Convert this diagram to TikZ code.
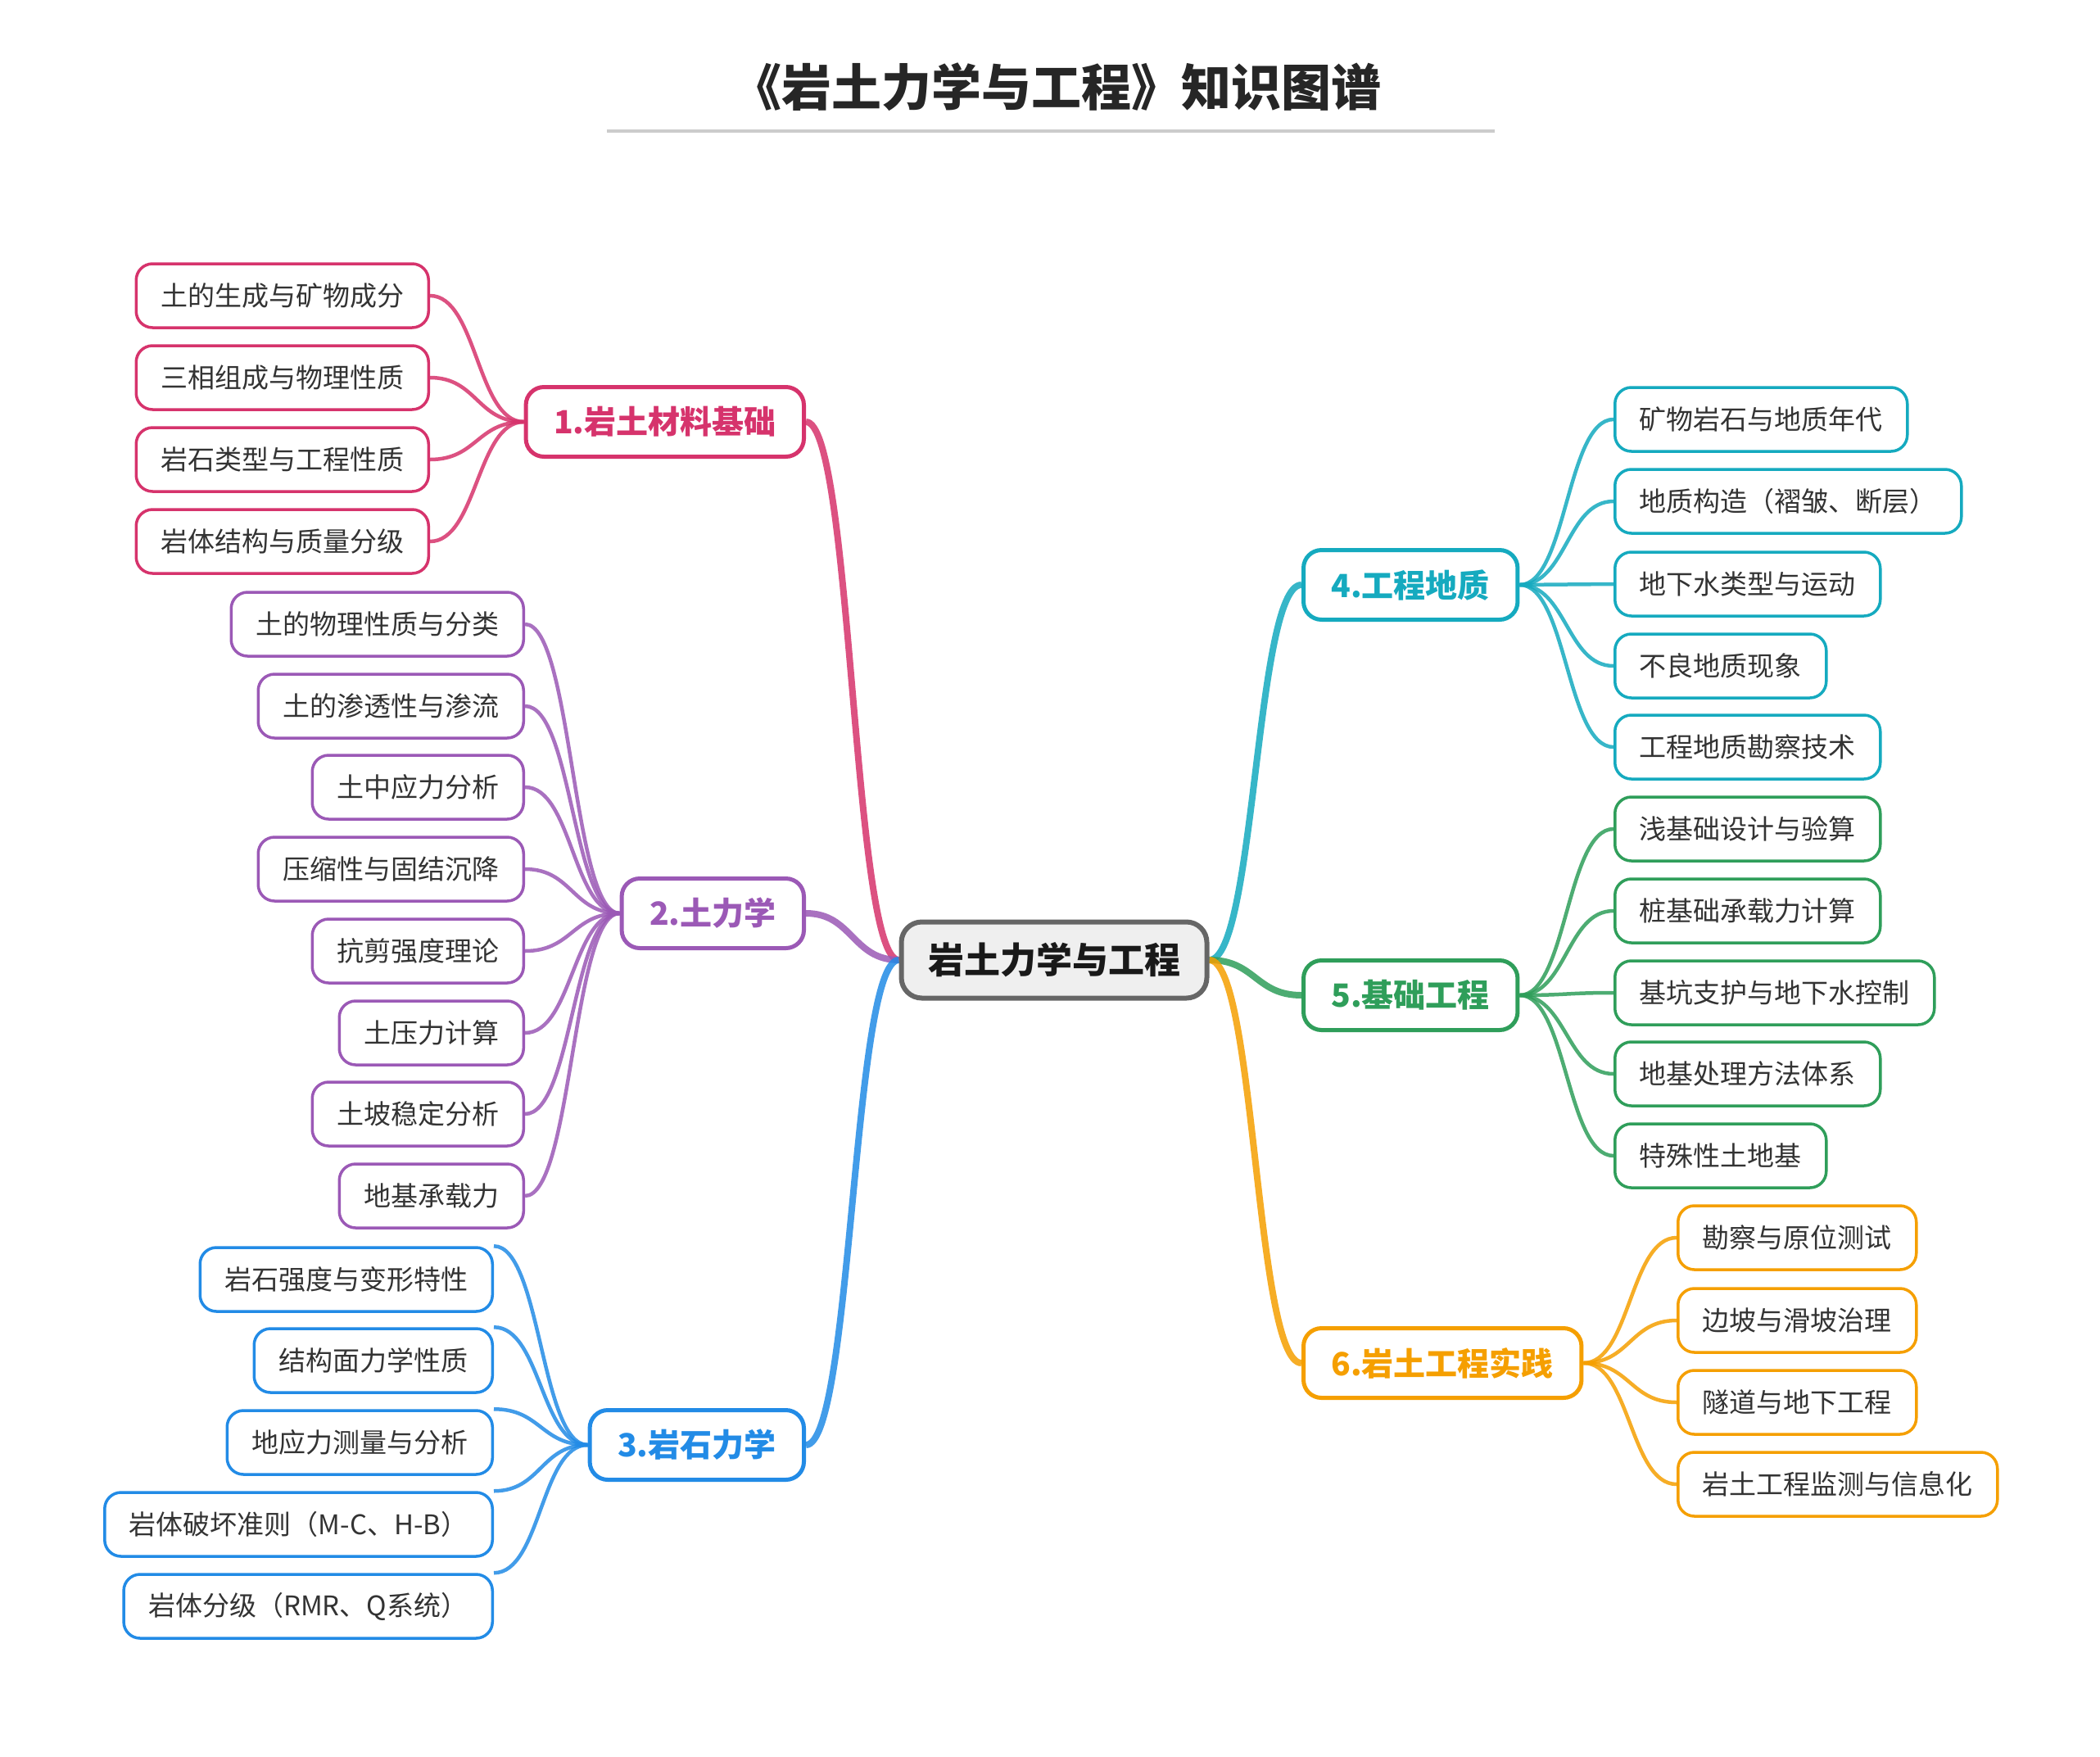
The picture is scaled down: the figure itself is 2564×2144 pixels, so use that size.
\documentclass[tikz,border=0pt]{standalone}
\usepackage{fontspec}
\setmainfont{Noto Sans CJK SC}
\usetikzlibrary{calc,backgrounds}
\definecolor{cpink}{HTML}{D6336C}
\definecolor{cpurple}{HTML}{9B59B6}
\definecolor{cblue}{HTML}{228BE6}
\definecolor{cteal}{HTML}{15AABF}
\definecolor{cgreen}{HTML}{2F9E5A}
\definecolor{corange}{HTML}{F59F00}
\definecolor{txt}{HTML}{333333}
\definecolor{rootborder}{HTML}{666666}
\definecolor{rootfill}{HTML}{EFEFEF}
\definecolor{rulegrey}{HTML}{CCCCCC}
\newcommand\sconn[3]{%
  \path (#2) coordinate (p1) (#3) coordinate (p2) ($(p1)!0.5!(p2)$) coordinate (pm);
  \draw[#1] (p1) .. controls (pm |- p1) and (pm |- p2) .. (p2);}
\begin{document}
\begin{tikzpicture}[x=1pt,y=-1pt,
  leaf/.style={draw=#1, line width=3.5pt, rounded corners=20pt, fill=white,
    minimum height=78pt, inner xsep=30pt, inner ysep=0pt,
    font=\fontsize{33}{40}\selectfont, text=txt},
  branch/.style={draw=#1, line width=5pt, rounded corners=22pt, fill=white,
    minimum height=85pt, inner xsep=34pt, inner ysep=0pt,
    font=\fontsize{39}{46}\selectfont\bfseries, text=#1},
  root/.style={draw=rootborder, line width=6pt, rounded corners=25pt, fill=rootfill,
    minimum height=93pt, minimum width=373pt, inner ysep=0pt,
    font=\fontsize{44}{52}\selectfont\bfseries, text=black!90},
  mainconn/.style={draw=#1, line width=8pt, draw opacity=0.85},
  leafconn/.style={draw=#1, line width=4.5pt, draw opacity=0.85},
  titletext/.style={font=\fontsize{61}{70}\selectfont\bfseries, text=black!85}
]
\useasboundingbox (0,0) rectangle (2564,2144);

% title
\node[titletext] (title) at (1290,106) {《岩土力学与工程》知识图谱};
\coordinate (ruleL) at (741,160);
\coordinate (ruleR) at (1825,160);
\draw[rulegrey, line width=4pt] (ruleL) -- (ruleR);

% root
\node[root] (root) at (1287,1172) {岩土力学与工程};

% branches
\node[branch=cpink, anchor=east] (b1) at (984,515) {1.岩土材料基础};
\node[branch=cpurple, anchor=east] (b2) at (984,1115) {2.土力学};
\node[branch=cblue, anchor=east] (b3) at (984,1764) {3.岩石力学};
\node[branch=cteal, anchor=west] (b4) at (1589,714) {4.工程地质};
\node[branch=cgreen, anchor=west] (b5) at (1589,1215) {5.基础工程};
\node[branch=corange, anchor=west] (b6) at (1589,1664) {6.岩土工程实践};

% group 1
\node[leaf=cpink, anchor=east] (l11) at (525,361) {土的生成与矿物成分};
\node[leaf=cpink, anchor=east] (l12) at (525,461) {三相组成与物理性质};
\node[leaf=cpink, anchor=east] (l13) at (525,561) {岩石类型与工程性质};
\node[leaf=cpink, anchor=east] (l14) at (525,661) {岩体结构与质量分级};

% group 2
\node[leaf=cpurple, anchor=east] (l21) at (641,762) {土的物理性质与分类};
\node[leaf=cpurple, anchor=east] (l22) at (641,862) {土的渗透性与渗流};
\node[leaf=cpurple, anchor=east] (l23) at (641,961) {土中应力分析};
\node[leaf=cpurple, anchor=east] (l24) at (641,1061) {压缩性与固结沉降};
\node[leaf=cpurple, anchor=east] (l25) at (641,1161) {抗剪强度理论};
\node[leaf=cpurple, anchor=east] (l26) at (641,1261) {土压力计算};
\node[leaf=cpurple, anchor=east] (l27) at (641,1360) {土坡稳定分析};
\node[leaf=cpurple, anchor=east] (l28) at (641,1460) {地基承载力};

% group 3
\node[leaf=cblue, anchor=east] (l31) at (603,1562) {岩石强度与变形特性};
\node[leaf=cblue, anchor=east] (l32) at (603,1661) {结构面力学性质};
\node[leaf=cblue, anchor=east] (l33) at (603,1761) {地应力测量与分析};
\node[leaf=cblue, anchor=east] (l34) at (603,1861) {岩体破坏准则（M-C、H-B）};
\node[leaf=cblue, anchor=east] (l35) at (603,1961) {岩体分级（RMR、Q系统）};

% group 4
\node[leaf=cteal, anchor=west] (l41) at (1970,512) {矿物岩石与地质年代};
\node[leaf=cteal, anchor=west] (l42) at (1970,612) {地质构造（褶皱、断层）};
\node[leaf=cteal, anchor=west] (l43) at (1970,713) {地下水类型与运动};
\node[leaf=cteal, anchor=west] (l44) at (1970,813) {不良地质现象};
\node[leaf=cteal, anchor=west] (l45) at (1970,912) {工程地质勘察技术};

% group 5
\node[leaf=cgreen, anchor=west] (l51) at (1970,1012) {浅基础设计与验算};
\node[leaf=cgreen, anchor=west] (l52) at (1970,1112) {桩基础承载力计算};
\node[leaf=cgreen, anchor=west] (l53) at (1970,1212) {基坑支护与地下水控制};
\node[leaf=cgreen, anchor=west] (l54) at (1970,1311) {地基处理方法体系};
\node[leaf=cgreen, anchor=west] (l55) at (1970,1411) {特殊性土地基};

% group 6
\node[leaf=corange, anchor=west] (l61) at (2047,1511) {勘察与原位测试};
\node[leaf=corange, anchor=west] (l62) at (2047,1612) {边坡与滑坡治理};
\node[leaf=corange, anchor=west] (l63) at (2047,1712) {隧道与地下工程};
\node[leaf=corange, anchor=west] (l64) at (2047,1812) {岩土工程监测与信息化};

\begin{pgfonlayer}{background}
  \fill[white] (0,0) rectangle (2564,2144);
  % main connectors
  \sconn{mainconn=cpink}{root.west}{b1.east}
  \sconn{mainconn=cpurple}{root.west}{b2.east}
  \sconn{mainconn=cblue}{root.west}{b3.east}
  \sconn{mainconn=cteal}{root.east}{b4.west}
  \sconn{mainconn=cgreen}{root.east}{b5.west}
  \sconn{mainconn=corange}{root.east}{b6.west}
  % leaf connectors
  \foreach \i in {1,...,4}{\sconn{leafconn=cpink}{b1.west}{l1\i.east}}
  \foreach \i in {1,...,8}{\sconn{leafconn=cpurple}{b2.west}{l2\i.east}}
  \foreach \i in {1,...,5}{\sconn{leafconn=cblue}{b3.west}{l3\i.north east}}
  \foreach \i in {1,...,5}{\sconn{leafconn=cteal}{b4.east}{l4\i.west}}
  \foreach \i in {1,...,5}{\sconn{leafconn=cgreen}{b5.east}{l5\i.west}}
  \foreach \i in {1,...,4}{\sconn{leafconn=corange}{b6.east}{l6\i.west}}
\end{pgfonlayer}
\end{tikzpicture}
\end{document}
